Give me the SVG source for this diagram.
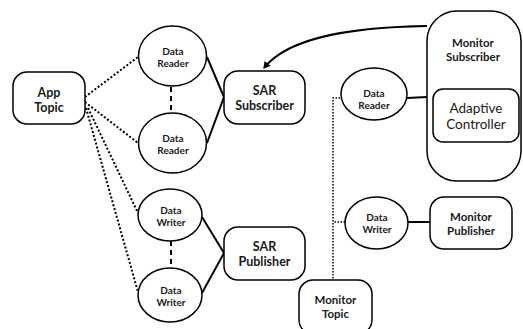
<svg xmlns="http://www.w3.org/2000/svg" width="523" height="329" viewBox="0 0 523 329">
<defs>
<style>
.n{fill:#fff;stroke:#000;stroke-width:1.5}
.t{font-family:Lato,"Liberation Sans",sans-serif;font-weight:700;text-anchor:middle;fill:#1a1a1a}
.s{font-size:10px}
.m{font-size:11.5px}
.l{font-size:12.5px}
.x{font-size:13.5px;font-weight:400}
.dot{fill:none;stroke:#000;stroke-width:2;stroke-dasharray:2 2}
.sol{fill:none;stroke:#000;stroke-width:2}
.dash{fill:none;stroke:#000;stroke-width:2;stroke-dasharray:5 4}
.mdot{fill:none;stroke:#000;stroke-width:1.5;stroke-dasharray:1.5 1.5}
</style>
<marker id="ah" markerWidth="8" markerHeight="8" refX="6" refY="4" orient="auto" markerUnits="userSpaceOnUse">
<path d="M0,0 L7,4 L0,8 Z" fill="#000"/>
</marker>
</defs>
<rect width="523" height="329" fill="#fff"/>
<g id="connectors">
<path class="dot" d="M85,97 L138,57"/>
<path class="dot" d="M85,102 L138,143"/>
<path class="dot" d="M88,108 L138,213"/>
<path class="dot" d="M86,108 L138,292"/>
<path class="dash" d="M171,87 L171,113"/>
<path class="dash" d="M171,241 L171,268"/>
<path class="sol" d="M207,57 L224,97 L207,143"/>
<path class="sol" d="M202,217 L224,253 L202,293"/>
<path class="sol" d="M407,98 L427,97"/>
<path class="sol" d="M408,222 L430,222"/>
<path class="mdot" d="M340,98 L333,98 L333,280"/>
<path class="mdot" d="M345,222 L333,222"/>
<path fill="none" stroke="#000" stroke-width="2" d="M427,26 C360,27 290,35 264,68" marker-end="url(#ah)"/>
</g>
<g id="app-topic"><rect class="n" x="13" y="72" width="72" height="52" rx="14"/><text class="t l" x="49" y="96.5">App</text><text class="t l" x="49" y="111.5">Topic</text></g>
<g id="data-reader-1"><ellipse class="n" cx="172.5" cy="56" rx="34" ry="30"/><text class="t s" x="173" y="54.5">Data</text><text class="t s" x="173" y="66.5">Reader</text></g>
<g id="data-reader-2"><ellipse class="n" cx="172.5" cy="143" rx="34" ry="30"/><text class="t s" x="173" y="141.5">Data</text><text class="t s" x="173" y="153.5">Reader</text></g>
<g id="sar-subscriber"><rect class="n" x="224" y="71" width="81" height="53" rx="14"/><text class="t l" x="264.5" y="95">SAR</text><text class="t l" x="264.5" y="110">Subscriber</text></g>
<g id="data-writer-1"><ellipse class="n" cx="170" cy="215" rx="32" ry="26"/><text class="t s" x="171" y="213.5">Data</text><text class="t s" x="171" y="225.5">Writer</text></g>
<g id="data-writer-2"><ellipse class="n" cx="170" cy="295" rx="32" ry="27"/><text class="t s" x="171" y="293.5">Data</text><text class="t s" x="171" y="305.5">Writer</text></g>
<g id="sar-publisher"><rect class="n" x="224" y="227" width="81" height="53" rx="14"/><text class="t l" x="264.5" y="251">SAR</text><text class="t l" x="264.5" y="266">Publisher</text></g>
<g id="monitor-subscriber"><rect class="n" x="427" y="11" width="94" height="170" rx="30"/><text class="t m" x="473" y="47">Monitor</text><text class="t m" x="473" y="61">Subscriber</text></g>
<g id="adaptive-controller"><rect class="n" x="433" y="89" width="86" height="53" rx="10"/><text class="t x" x="476" y="112.5">Adaptive</text><text class="t x" x="476" y="129">Controller</text></g>
<g id="data-reader-3"><ellipse class="n" cx="374" cy="94" rx="33" ry="26"/><text class="t s" x="374" y="96.5">Data</text><text class="t s" x="374" y="108.5">Reader</text></g>
<g id="data-writer-3"><ellipse class="n" cx="376.5" cy="223" rx="31.5" ry="26"/><text class="t s" x="377" y="220.5">Data</text><text class="t s" x="377" y="232.5">Writer</text></g>
<g id="monitor-publisher"><rect class="n" x="430" y="197" width="82" height="52" rx="14"/><text class="t m" x="471" y="221">Monitor</text><text class="t m" x="471" y="235">Publisher</text></g>
<g id="monitor-topic"><rect class="n" x="299" y="280" width="73" height="54" rx="14"/><text class="t m" x="335.5" y="304">Monitor</text><text class="t m" x="335.5" y="318">Topic</text></g>
</svg>
